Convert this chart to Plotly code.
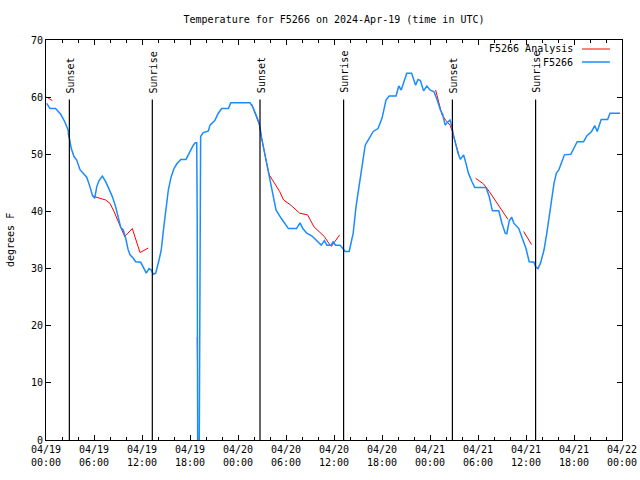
import datetime as dt
import plotly.graph_objects as go

BASE = dt.datetime(2024, 4, 19, 0, 0)

# Observed temperature (F5266): hours since 2024-04-19 00:00 UTC, degrees F
obs_hours = [0.09, 0.5, 1.2, 1.84, 2.34, 2.75, 2.9, 3.16, 3.5, 3.84, 4.25, 4.75, 5.09, 5.5, 5.79,
             6.09, 6.34, 6.63, 7.04, 7.46, 7.88, 8.29, 8.71, 9.13, 9.34, 9.66, 9.96, 10.25, 10.5,
             10.91, 11.21, 11.84, 12.16, 12.54, 12.88, 13.16, 13.41, 13.71, 14.13, 14.41, 14.66,
             15.0, 15.29, 15.63, 16.0, 16.34, 16.84, 17.5, 18.0, 18.41, 18.66, 18.84, 18.9, 18.96,
             19.16, 19.25, 19.33, 19.66, 20.3, 20.5, 21.1, 21.5, 21.96, 22.8, 23.09, 25.5, 25.84,
             26.25, 26.66, 26.96, 27.25, 27.59, 27.91, 28.2, 28.6, 28.75, 29.4, 29.9, 30.3, 31.3,
             31.75, 32.1, 32.6, 33.25, 33.8, 34.4, 34.8, 35.1, 35.6, 35.9, 36.2, 36.75, 37.1, 37.4,
             37.9, 38.4, 38.75, 39.1, 39.5, 39.9, 40.4, 40.9, 41.5, 42.0, 42.5, 42.9, 43.75, 44.1,
             44.4, 44.7, 45.1, 45.7, 46.2, 46.5, 46.8, 47.2, 47.6, 48.0, 48.5, 48.9, 49.3, 49.6,
             49.9, 50.25, 50.5, 50.75, 50.96, 51.25, 51.5, 51.8, 52.2, 52.5, 52.8, 53.25, 53.6,
             55.0, 55.4, 55.8, 56.6, 57.0, 57.4, 57.6, 57.9, 58.2, 58.5, 59.1, 59.5, 60.0, 60.4,
             61.0, 61.2, 61.5, 61.8, 62.25, 62.6, 62.9, 63.2, 63.5, 63.8, 64.1, 64.4, 64.8, 65.6,
             66.0, 66.4, 67.2, 67.6, 68.2, 68.6, 68.9, 69.4, 70.2, 70.5, 71.75]
obs_temps = [58.9, 58.0, 58.0, 57.0, 55.7, 54.3, 53.0, 51.0, 49.6, 49.0, 47.3, 46.5, 46.0, 44.3, 42.9,
             42.3, 44.3, 45.4, 46.2, 45.2, 44.0, 42.6, 40.8, 38.5, 37.2, 36.75, 35.3, 33.4, 32.4,
             31.8, 31.2, 31.1, 30.3, 29.2, 30.0, 29.75, 29.0, 29.2, 31.5, 33.3, 36.5,
             40.25, 43.75, 46.0, 47.5, 48.3, 49.1, 49.1, 50.5, 51.6, 52.0, 52.0, 39.0, 0.0,
             0.0, 40.0, 53.1, 53.8, 54.1, 55.1, 55.9, 57.1, 58.0, 58.0, 59.0, 59.0, 58.3,
             56.9, 55.4, 52.8, 50.75, 48.4, 46.4, 44.3, 41.7, 40.25, 38.8, 37.9, 37.0, 37.0,
             38.0, 37.0, 36.2, 35.7, 35.0, 34.1, 34.9, 34.1, 34.1, 34.7, 34.1, 34.1, 33.5, 33.0,
             33.0, 36.2, 40.8, 44.3, 48.4, 51.6, 52.8, 54.0, 54.5, 56.3, 59.5, 60.2, 60.2, 61.95,
             61.25, 62.4, 64.2, 64.2, 62.1, 63.1, 62.9, 61.1, 61.95, 61.25, 60.95, 59.5, 57.75, 56.9,
             55.1, 55.7, 56.0, 54.8, 53.1, 51.6, 50.2, 49.1, 49.9, 48.4, 46.7, 45.2, 44.2,
             44.2, 42.6, 40.1, 40.1, 37.9, 36.2, 36.1, 38.3, 39.0, 37.9, 37.0, 35.3, 33.5, 31.2,
             31.1, 30.3, 30.0, 30.9, 33.25, 36.2, 39.1, 42.0, 44.9, 46.7, 47.25, 48.4, 49.9, 50.0,
             51.0, 52.2, 52.2, 53.2, 54.0, 55.0, 54.0, 56.1, 56.1, 57.2, 57.2]

# Analysis (F5266 Analysis): None marks gaps
ana_hours = [0.1, 0.8, None,
             2.75, 2.85, None,
             5.79, 6.63, 7.46, 8.0, 8.5, 9.13, 9.84, 10.79, 11.75, 12.79, None,
             18.9, 18.94, None,
             25.7, 26.25, 26.66, 26.96, 27.25, 27.59, 27.91, 28.4, 29.2, 29.7, 30.6, 31.7, 32.7,
             33.5, 34.8, 35.5, 35.7, 36.7, None,
             48.7, 49.1, 49.5, 50.0, 50.5, 50.8, 51.1, 51.6, None,
             53.7, 54.7, 55.4, 56.6, 57.75, None,
             59.7, 60.7]
ana_temps = [60.0, 59.4, None,
             53.6, 53.0, None,
             42.7, 42.3, 42.0, 41.4, 40.0, 37.9, 35.6, 37.0, 32.8, 33.6, None,
             18.0, 13.0, None,
             58.8, 56.9, 55.2, 52.8, 50.5, 48.4, 46.4, 45.2, 43.5, 42.0, 41.1, 39.7, 39.4,
             37.3, 35.6, 34.1, 33.9, 35.9, None,
             61.25, 58.9, 56.9, 55.9, 55.1, 54.0, 52.5, 49.9, None,
             45.8, 44.8, 43.5, 41.1, 38.6, None,
             36.5, 34.2]

# Sunset / sunrise markers (hours since start)
sun_hours = [2.92, 13.29, 26.75, 37.2, 50.8, 61.2]
sun_labels = ["Sunset", "Sunrise", "Sunset", "Sunrise", "Sunset", "Sunrise"]
sun_line_top = 59.6

tick_hours = [0, 6, 12, 18, 24, 30, 36, 42, 48, 54, 60, 66, 72]
tick_labels = ["04/19<br>00:00", "04/19<br>06:00", "04/19<br>12:00", "04/19<br>18:00",
               "04/20<br>00:00", "04/20<br>06:00", "04/20<br>12:00", "04/20<br>18:00",
               "04/21<br>00:00", "04/21<br>06:00", "04/21<br>12:00", "04/21<br>18:00",
               "04/22<br>00:00"]


def to_time(h):
    return None if h is None else BASE + dt.timedelta(hours=h)


FONT = "DejaVu Sans Mono"
fig = go.Figure()
fig.add_trace(go.Scatter(x=[to_time(h) for h in ana_hours], y=ana_temps, mode="lines",
                         line=dict(color="#ff0000", width=1), connectgaps=False,
                         name="F5266 Analysis", showlegend=False))
fig.add_trace(go.Scatter(x=[to_time(h) for h in obs_hours], y=obs_temps, mode="lines",
                         line=dict(color="#1a8cff", width=1.5), name="F5266", showlegend=False))

for h, lab in zip(sun_hours, sun_labels):
    t = to_time(h)
    fig.add_shape(type="line", xref="x", yref="y", x0=t, x1=t, y0=0, y1=sun_line_top,
                  line=dict(color="black", width=1.2))
    fig.add_annotation(x=t, y=60.35, xref="x", yref="y", text=lab, textangle=-90,
                       showarrow=False, xanchor="center", yanchor="bottom", xshift=1,
                       font=dict(family=FONT, size=10, color="black"))

# manual gnuplot-style legend
legend_items = [("F5266 Analysis", "#ff0000", 1, 0.9775), ("F5266", "#1a8cff", 1.5, 0.945)]
for name, col, w, yy in legend_items:
    fig.add_annotation(x=0.918, y=yy, xref="paper", yref="paper", text=name, showarrow=False,
                       xanchor="right", yanchor="middle",
                       font=dict(family=FONT, size=10, color="black"))
    fig.add_shape(type="line", xref="paper", yref="paper", x0=0.9306, x1=0.979, y0=yy, y1=yy,
                  line=dict(color=col, width=w))

# y-axis title placed like gnuplot's ylabel
fig.add_annotation(x=-36 / 576, y=0.5, xref="paper", yref="paper", text="degrees F",
                   textangle=-90, showarrow=False, xanchor="center", yanchor="middle",
                   font=dict(family=FONT, size=10, color="black"))

fig.update_layout(
    width=640, height=480,
    margin=dict(l=46, r=18, t=40, b=40, autoexpand=False),
    paper_bgcolor="white", plot_bgcolor="white",
    font=dict(family=FONT, size=10, color="black"),
    title=dict(text="Temperature for F5266 on 2024-Apr-19 (time in UTC)", x=0.5, xref="paper",
               y=1 - 19 / 480, yref="container", yanchor="middle", xanchor="center",
               font=dict(family=FONT, size=10, color="black"), automargin=False),
    showlegend=False,
)
fig.update_xaxes(
    type="date", range=[to_time(0), to_time(72)], automargin=False,
    tickvals=[to_time(h) for h in tick_hours], ticktext=tick_labels,
    ticks="inside", ticklen=5, tickcolor="black", showgrid=False, zeroline=False,
    showline=True, linecolor="black", linewidth=1, mirror="ticks",
    minor=dict(dtick=2 * 3600 * 1000, ticks="inside", ticklen=3, tickcolor="black", showgrid=False),
    tickfont=dict(family=FONT, size=10, color="black"),
)
fig.update_yaxes(
    range=[0, 70], dtick=10, tick0=0, automargin=False,
    ticks="inside", ticklen=5, tickcolor="black", showgrid=False, zeroline=False,
    showline=True, linecolor="black", linewidth=1, mirror="ticks",
    tickfont=dict(family=FONT, size=10, color="black"),
)

# remove the browser's default 8px page margin so the 640x480 figure fills the window
fig.write_html("out.html", config={"displayModeBar": False},
               post_script="document.body.style.margin='0';")
